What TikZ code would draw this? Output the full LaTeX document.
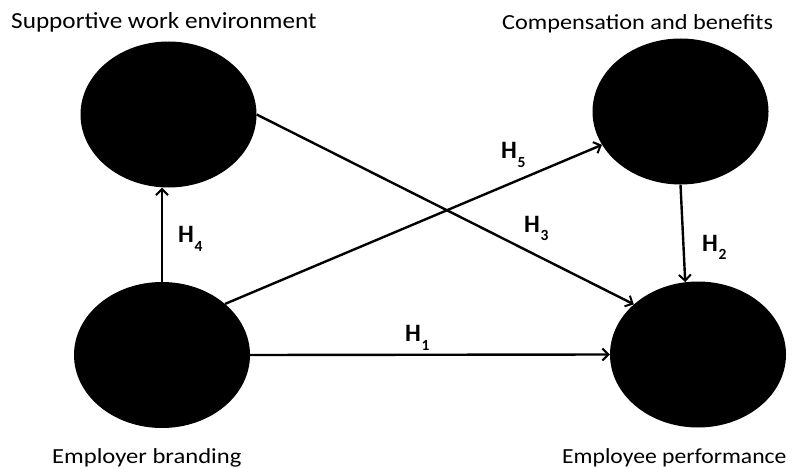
\documentclass[tikz,border=0pt]{standalone}
\usepackage{fontspec}
\setmainfont{Carlito}
\usetikzlibrary{shapes.geometric,arrows.meta}
\tikzset{
  blob/.style={ellipse,fill=black,draw=none,inner sep=0pt,minimum width=176pt,minimum height=146pt},
  link/.style={line width=2.4pt,-{Straight Barb[length=6pt,width=12pt,line width=2pt]}},
  ttl/.style={anchor=base west,inner sep=0pt,font=\fontsize{21.5}{24}\selectfont},
  hyp/.style={anchor=base west,inner sep=0pt,font=\fontsize{25}{27}\selectfont\bfseries}
}
\newcommand{\hsub}[1]{H\hspace{0.6pt}\raisebox{-9pt}{\fontsize{15.5}{16}\selectfont #1}}
\begin{document}
\begin{tikzpicture}[x=1pt,y=-1pt]
\useasboundingbox (0,0) rectangle (798,468);
\node[blob] (TL) at (168.5,114.5) {};
\node[blob] (TR) at (680.5,111.5) {};
\node[blob] (BL) at (162,355) {};
\node[blob] (BR) at (698,354.5) {};
\node[ttl,font=\fontsize{23}{25}\selectfont] (tTL) at (11,29) {\scalebox{1.096}[1]{Supportive work environment}};
\node[ttl] (tTR) at (502,30) {\scalebox{1.13}[1]{Compensation and benefits}};
\node[ttl] (tBL) at (52,463) {\scalebox{1.145}[1]{Employer branding}};
\node[ttl] (tBR) at (562,463) {\scalebox{1.10}[1]{Employee performance}};
\draw[link] (BL.north) -- (BL.north |- TL.south);
\draw[link] (TL.east) -- (BR.142);
\draw[link] (BL.39) -- (TR.203);
\draw[link] (BL.east) -- (BR.west);
\draw[link] (TR.south) -- (BR.100);
\node[hyp] (h4) at (178,242) {\hsub{4}};
\node[hyp] (h5) at (501,159) {\hsub{5}};
\node[hyp] (h3) at (524,232) {\hsub{3}};
\node[hyp] (h2) at (702,251) {\hsub{2}};
\node[hyp] (h1) at (405,341) {\hsub{1}};
\end{tikzpicture}
\end{document}
